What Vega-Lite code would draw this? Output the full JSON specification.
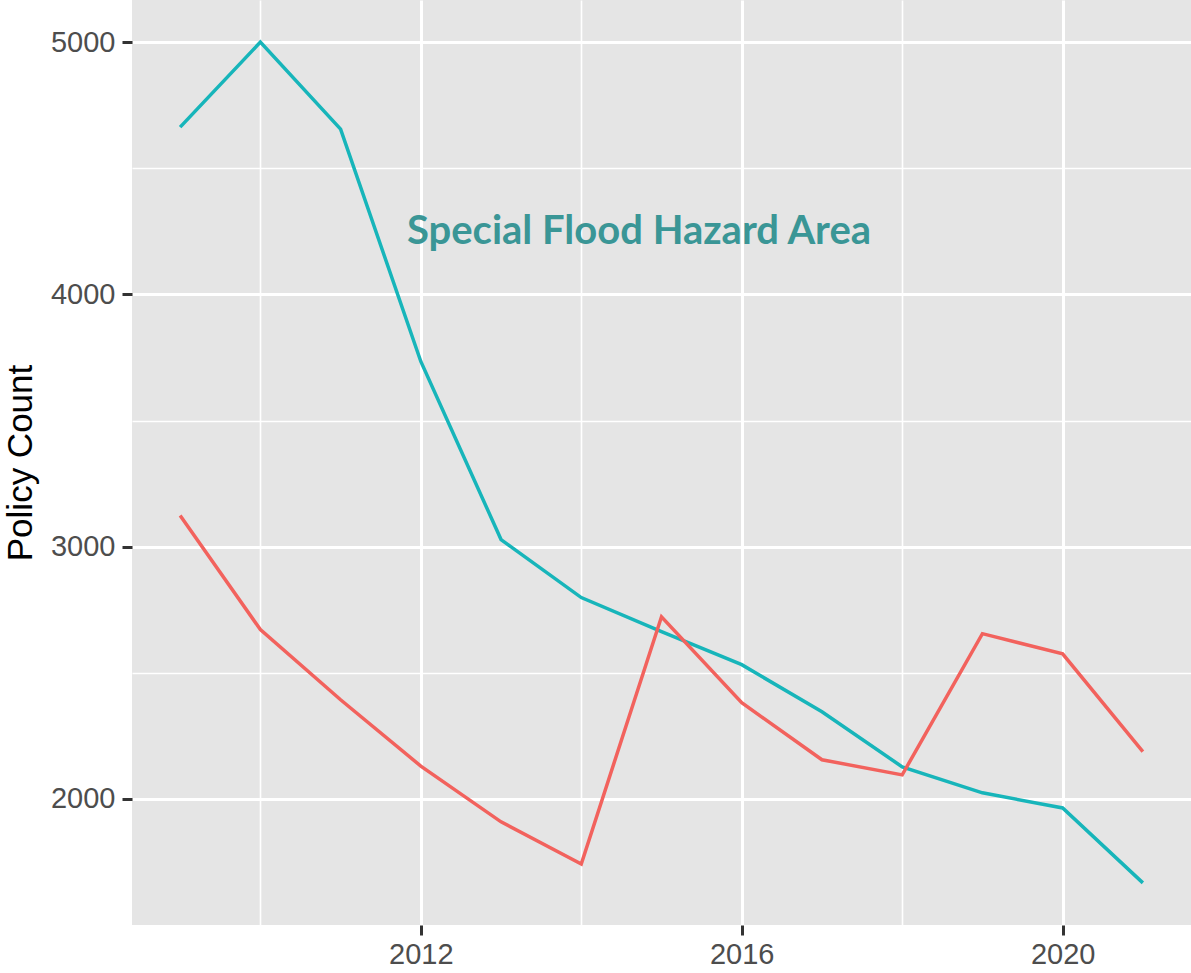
{
  "$schema": "https://vega.github.io/schema/vega-lite/v6.json",
  "autosize": {"type": "none"},
  "width": 1059,
  "height": 925,
  "padding": {"left": 132, "top": 0, "right": 0, "bottom": 48},
  "background": "white",
  "config": {
    "view": {"fill": "#E5E5E5", "stroke": null},
    "axis": {"domain": false, "gridColor": "white", "labelFont": "Liberation Sans", "labelFontSize": 29, "labelColor": "#4D4D4D", "tickColor": "#333333", "tickWidth": 3, "tickSize": 10}
  },
  "datasets": {
    "policies": [
      {"year": 2009, "zone": "SFHA", "count": 4663},
      {"year": 2010, "zone": "SFHA", "count": 5000},
      {"year": 2011, "zone": "SFHA", "count": 4655},
      {"year": 2012, "zone": "SFHA", "count": 3734},
      {"year": 2013, "zone": "SFHA", "count": 3028},
      {"year": 2014, "zone": "SFHA", "count": 2798},
      {"year": 2015, "zone": "SFHA", "count": 2663},
      {"year": 2016, "zone": "SFHA", "count": 2532},
      {"year": 2017, "zone": "SFHA", "count": 2345},
      {"year": 2018, "zone": "SFHA", "count": 2127},
      {"year": 2019, "zone": "SFHA", "count": 2024},
      {"year": 2020, "zone": "SFHA", "count": 1964},
      {"year": 2021, "zone": "SFHA", "count": 1667},
      {"year": 2009, "zone": "Non-SFHA", "count": 3123},
      {"year": 2010, "zone": "Non-SFHA", "count": 2671},
      {"year": 2011, "zone": "Non-SFHA", "count": 2393},
      {"year": 2012, "zone": "Non-SFHA", "count": 2130},
      {"year": 2013, "zone": "Non-SFHA", "count": 1909},
      {"year": 2014, "zone": "Non-SFHA", "count": 1742},
      {"year": 2015, "zone": "Non-SFHA", "count": 2722},
      {"year": 2016, "zone": "Non-SFHA", "count": 2381},
      {"year": 2017, "zone": "Non-SFHA", "count": 2155},
      {"year": 2018, "zone": "Non-SFHA", "count": 2095},
      {"year": 2019, "zone": "Non-SFHA", "count": 2655},
      {"year": 2020, "zone": "Non-SFHA", "count": 2575},
      {"year": 2021, "zone": "Non-SFHA", "count": 2187}
    ],
    "annotation": [
      {"label": "Special Flood Hazard Area", "year": 2014.72, "count": 4246}
    ]
  },
  "layer": [
    {
      "data": {"name": "policies"},
      "mark": {"type": "line", "strokeWidth": 3.5},
      "encoding": {
        "x": {
          "field": "year", "type": "quantitative",
          "scale": {"domain": [2008.4, 2021.6], "nice": false, "zero": false},
          "axis": {
            "title": null,
            "values": [2010, 2012, 2014, 2016, 2018, 2020],
            "format": "d",
            "labelExpr": "datum.value % 4 == 0 ? datum.label : ''",
            "labelPadding": 5,
            "gridWidth": {"condition": {"test": "datum.value % 4 == 0", "value": 3}, "value": 1.6},
            "tickOpacity": {"condition": {"test": "datum.value % 4 == 0", "value": 1}, "value": 0}
          }
        },
        "y": {
          "field": "count", "type": "quantitative",
          "scale": {"domain": [1500, 5167], "nice": false, "zero": false},
          "axis": {
            "title": "Policy Count",
            "titleFont": "Liberation Sans",
            "titleFontSize": 35,
            "titleFontWeight": "normal",
            "titleColor": "black",
            "titlePadding": 12,
            "values": [2000, 2500, 3000, 3500, 4000, 4500, 5000],
            "labelExpr": "datum.value % 1000 == 0 ? datum.label : ''",
            "format": "d",
            "labelPadding": 7,
            "gridWidth": {"condition": {"test": "datum.value % 1000 == 0", "value": 3}, "value": 1.6},
            "tickOpacity": {"condition": {"test": "datum.value % 1000 == 0", "value": 1}, "value": 0}
          }
        },
        "color": {
          "field": "zone", "type": "nominal",
          "scale": {"domain": ["Non-SFHA", "SFHA"], "range": ["#F2625D", "#17B5BA"]},
          "legend": null
        }
      }
    },
    {
      "data": {"name": "annotation"},
      "mark": {"type": "text", "font": "Lato", "fontWeight": "bold", "fontSize": 40, "color": "#3A9696", "align": "center", "baseline": "middle"},
      "encoding": {
        "text": {"field": "label", "type": "nominal"},
        "x": {"field": "year", "type": "quantitative"},
        "y": {"field": "count", "type": "quantitative"}
      }
    }
  ]
}
